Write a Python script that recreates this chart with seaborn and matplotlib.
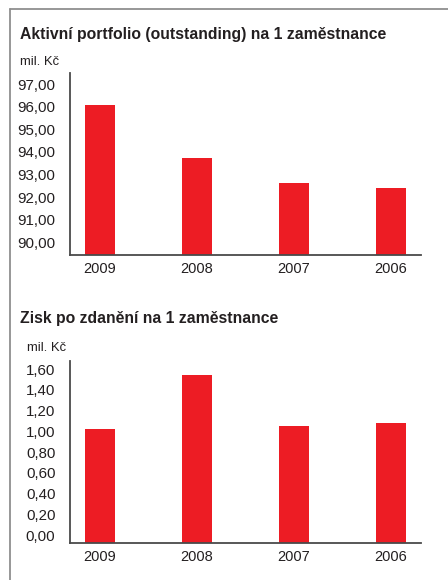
import matplotlib
matplotlib.use("Agg")
import matplotlib.pyplot as plt
from matplotlib.lines import Line2D
from matplotlib.ticker import FuncFormatter, MultipleLocator
import pandas as pd
import seaborn as sns

# data
years = ["2009", "2008", "2007", "2006"]
portfolio = [96.07, 93.73, 92.62, 92.40]
profit = [1.02, 1.54, 1.05, 1.08]

title_top = "Aktivní portfolio (outstanding) na 1 zaměstnance"
title_bottom = "Zisk po zdanění na 1 zaměstnance"
unit = "mil. Kč"

RED = "#ED1C24"
TXT = "#231f20"
SPINE = "#4a4a4a"

sns.set_style("white")
plt.rcParams["font.family"] = ["Liberation Sans", "DejaVu Sans"]


def comma_fmt(v, pos):
    return f"{v:.2f}".replace(".", ",")


def draw_panel(ax, values, ylim, step):
    df = pd.DataFrame({"year": years, "value": values})
    sns.barplot(data=df, x="year", y="value", order=years, color=RED,
                width=0.31, saturation=1, ax=ax)
    lo, hi = ylim
    # bars grow from the bottom of the axis, not from zero
    for p, v in zip(ax.patches, values):
        p.set_y(lo)
        p.set_height(v - lo)
        p.set_edgecolor("none")
    ax.set_ylim(lo, hi)
    ax.set_xlim(-0.31, 3.31)
    ax.yaxis.set_major_locator(MultipleLocator(step))
    ax.yaxis.set_major_formatter(FuncFormatter(comma_fmt))
    ax.set_xlabel("")
    ax.set_ylabel("")
    for s in ["top", "right"]:
        ax.spines[s].set_visible(False)
    for s in ["left", "bottom"]:
        ax.spines[s].set_color(SPINE)
        ax.spines[s].set_linewidth(1.3)
    ax.tick_params(axis="y", length=0, pad=10.5, labelsize=10.8, labelcolor=TXT)
    ax.tick_params(axis="x", length=0, pad=5, labelsize=10.5, labelcolor=TXT)
    ax.patch.set_alpha(0)
    return ax


fig = plt.figure(figsize=(4.48, 5.8), dpi=100)

ax1 = fig.add_axes([70 / 448, 1 - 255 / 580, 351 / 448, 182 / 580])
draw_panel(ax1, portfolio, (89.43, 97.5), 1)
fig.text(20 / 448, 1 - 35 / 580, title_top, fontsize=11.3, fontweight="bold",
         color=TXT, ha="left", va="center")
fig.text(20 / 448, 1 - 62 / 580, unit, fontsize=9.4, color=TXT,
         ha="left", va="center")

ax2 = fig.add_axes([70 / 448, 1 - 542.7 / 580, 351 / 448, 182 / 580])
draw_panel(ax2, profit, (-0.074, 1.68), 0.2)
fig.text(20 / 448, 1 - 318 / 580, title_bottom, fontsize=11.3, fontweight="bold",
         color=TXT, ha="left", va="center")
fig.text(27 / 448, 1 - 348 / 580, unit, fontsize=9.4, color=TXT,
         ha="left", va="center")

# frame lines (top and left)
fig.add_artist(Line2D([9.5 / 448, 1], [1 - 8.5 / 580, 1 - 8.5 / 580],
                      transform=fig.transFigure, color="#8f8f8f", lw=1.3))
fig.add_artist(Line2D([9.5 / 448, 9.5 / 448], [1 - 8.5 / 580, 0],
                      transform=fig.transFigure, color="#8f8f8f", lw=1.3))

fig.savefig("out.png", dpi=100)
